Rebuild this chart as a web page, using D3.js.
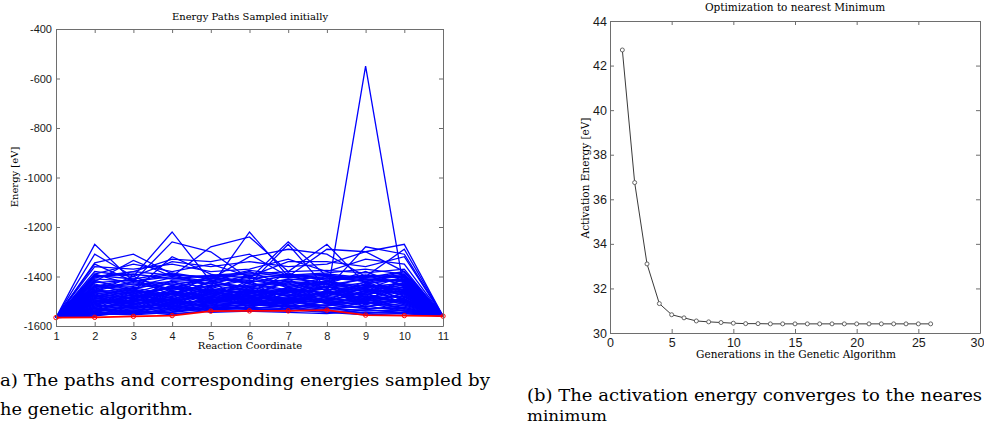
<!DOCTYPE html>
<html>
<head>
<meta charset="utf-8">
<script src="https://cdn.jsdelivr.net/npm/d3@7"></script>
<style>
body { margin: 0; background: #fff; }
svg { display: block; }
</style>
</head>
<body>
<svg id="fig" width="984" height="425"></svg>
<script>
// ---- data ----
var reactionCoords = [1, 2, 3, 4, 5, 6, 7, 8, 9, 10, 11];
var startEnergy = -1566;   // every path starts here
var endEnergy = -1560;     // ... and ends here
// energies at reaction coordinates 2..10 for each sampled path
var sampledPaths = [
  [-1270, -1420, -1450, -1400, -1430, -1460, -1440, -1410, -1420],
  [-1310, -1400, -1220, -1420, -1380, -1440, -1420, -1450, -1400],
  [-1345, -1310, -1390, -1440, -1220, -1400, -1430, -1380, -1440],
  [-1350, -1420, -1260, -1300, -1410, -1260, -1400, -1420, -1380],
  [-1420, -1335, -1400, -1280, -1240, -1380, -1270, -1430, -1410],
  [-1440, -1460, -1320, -1390, -1430, -1270, -1450, -1280, -1310],
  [-1400, -1380, -1330, -1340, -1310, -1400, -1290, -1300, -1270],
  [-1460, -1420, -1390, -1410, -1320, -1290, -1310, -1400, -1290],
  [-1480, -1450, -1500, -1470, -1460, -1490, -1480, -550, -1460],
  [-1360, -1370, -1350, -1380, -1370, -1330, -1380, -1330, -1350],
  [-1380, -1400, -1340, -1360, -1340, -1360, -1350, -1300, -1380],
  [-1390, -1350, -1380, -1350, -1400, -1340, -1340, -1360, -1320],
  [-1400, -1390, -1410, -1395, -1385, -1400, -1390, -1405, -1380],
  [-1410, -1420, -1400, -1420, -1410, -1390, -1410, -1395, -1400],
  [-1425, -1415, -1435, -1405, -1420, -1415, -1400, -1420, -1410],
  [-1440, -1450, -1420, -1430, -1440, -1425, -1435, -1410, -1420],
  [-1450, -1430, -1455, -1440, -1415, -1440, -1420, -1440, -1430],
  [-1460, -1470, -1445, -1460, -1450, -1430, -1455, -1435, -1445],
  [-1470, -1455, -1480, -1450, -1465, -1460, -1440, -1460, -1450],
  [-1480, -1490, -1465, -1475, -1455, -1470, -1475, -1450, -1470],
  [-1490, -1475, -1495, -1485, -1480, -1455, -1480, -1470, -1460],
  [-1500, -1510, -1490, -1470, -1490, -1485, -1465, -1490, -1480],
  [-1510, -1495, -1505, -1500, -1475, -1495, -1490, -1480, -1500],
  [-1520, -1515, -1520, -1490, -1505, -1500, -1505, -1510, -1490],
  [-1530, -1525, -1510, -1515, -1500, -1510, -1495, -1520, -1510],
  [-1540, -1535, -1530, -1520, -1515, -1520, -1515, -1530, -1525],
  [-1550, -1545, -1540, -1525, -1525, -1530, -1525, -1540, -1535],
  [-1555, -1550, -1545, -1530, -1530, -1535, -1545, -1548, -1545],
  [-1545, -1520, -1535, -1510, -1520, -1500, -1520, -1500, -1530],
  [-1535, -1540, -1500, -1505, -1480, -1505, -1485, -1510, -1495],
  [-1525, -1500, -1525, -1480, -1495, -1475, -1500, -1460, -1490],
  [-1515, -1530, -1470, -1495, -1470, -1490, -1460, -1485, -1455],
  [-1505, -1480, -1515, -1460, -1485, -1445, -1470, -1450, -1475],
  [-1495, -1505, -1460, -1490, -1445, -1465, -1450, -1475, -1440],
  [-1485, -1460, -1485, -1435, -1460, -1450, -1430, -1455, -1435],
  [-1475, -1485, -1440, -1455, -1435, -1420, -1445, -1425, -1415],
  [-1465, -1445, -1475, -1420, -1445, -1410, -1425, -1445, -1425],
  [-1455, -1465, -1425, -1445, -1400, -1435, -1405, -1420, -1395],
  [-1445, -1425, -1450, -1410, -1425, -1395, -1415, -1400, -1405],
  [-1435, -1440, -1405, -1430, -1395, -1405, -1395, -1415, -1390],
  [-1520, -1470, -1440, -1500, -1460, -1520, -1480, -1430, -1500],
  [-1470, -1510, -1480, -1420, -1510, -1440, -1505, -1490, -1440],
  [-1540, -1490, -1520, -1470, -1440, -1480, -1440, -1500, -1470],
  [-1500, -1525, -1455, -1510, -1470, -1425, -1490, -1445, -1510],
  [-1430, -1475, -1500, -1440, -1480, -1500, -1460, -1475, -1430],
  [-1560, -1510, -1495, -1525, -1490, -1460, -1510, -1525, -1485],
  [-1550, -1555, -1525, -1505, -1510, -1525, -1500, -1495, -1520],
  [-1480, -1445, -1430, -1460, -1500, -1490, -1440, -1470, -1505],
  [-1415, -1460, -1470, -1425, -1455, -1480, -1470, -1430, -1455],
  [-1460, -1400, -1460, -1480, -1425, -1455, -1415, -1465, -1425],
  [-1530, -1500, -1485, -1535, -1525, -1490, -1530, -1505, -1540],
  [-1510, -1545, -1510, -1455, -1495, -1515, -1535, -1535, -1515],
  [-1490, -1455, -1525, -1485, -1415, -1510, -1455, -1515, -1465],
  [-1545, -1480, -1460, -1500, -1505, -1445, -1480, -1420, -1480],
  [-1390, -1435, -1420, -1470, -1440, -1420, -1430, -1455, -1460],
  [-1450, -1495, -1415, -1415, -1460, -1470, -1510, -1480, -1410],
  [-1505, -1465, -1540, -1530, -1510, -1505, -1470, -1440, -1490],
  [-1420, -1450, -1490, -1455, -1470, -1385, -1460, -1495, -1450],
  [-1535, -1515, -1490, -1445, -1530, -1515, -1525, -1550, -1535],
  [-1475, -1530, -1505, -1520, -1450, -1480, -1395, -1410, -1470],
  [-1555, -1535, -1550, -1540, -1535, -1530, -1540, -1545, -1550],
  [-1525, -1480, -1445, -1490, -1520, -1465, -1450, -1525, -1495],
  [-1440, -1410, -1475, -1395, -1405, -1445, -1420, -1395, -1435],
  [-1495, -1520, -1530, -1505, -1485, -1500, -1520, -1470, -1515],
  [-1465, -1490, -1435, -1475, -1490, -1410, -1485, -1505, -1400],
  [-1545, -1550, -1515, -1535, -1515, -1495, -1505, -1530, -1530],
  [-1405, -1380, -1395, -1400, -1390, -1380, -1375, -1385, -1370],
  [-1395, -1410, -1385, -1410, -1375, -1395, -1385, -1370, -1390],
  [-1515, -1470, -1500, -1465, -1475, -1535, -1495, -1465, -1445],
  [-1485, -1515, -1465, -1480, -1500, -1460, -1430, -1485, -1480],
  [-1560, -1540, -1555, -1535, -1530, -1520, -1545, -1555, -1550],
  [-1525, -1555, -1545, -1515, -1535, -1540, -1530, -1520, -1540],
  [-1500, -1460, -1510, -1450, -1470, -1455, -1500, -1455, -1465],
  [-1540, -1525, -1495, -1480, -1520, -1510, -1460, -1505, -1525],
  [-1455, -1480, -1470, -1500, -1480, -1450, -1465, -1490, -1495],
  [-1530, -1545, -1535, -1525, -1500, -1525, -1515, -1495, -1505],
  [-1490, -1500, -1450, -1465, -1510, -1485, -1495, -1440, -1455],
  [-1550, -1530, -1520, -1545, -1540, -1545, -1550, -1535, -1545],
  [-1510, -1485, -1530, -1495, -1455, -1475, -1440, -1480, -1500]
];
var bestPath = [-1566, -1565, -1561, -1558, -1540, -1539, -1539, -1536, -1556, -1558, -1560];
var energyTicks = [-1600, -1400, -1200, -1000, -800, -600, -400];

var generations = [1, 2, 3, 4, 5, 6, 7, 8, 9, 10, 11, 12, 13, 14, 15, 16, 17, 18, 19, 20, 21, 22, 23, 24, 25, 26];
var activationEnergy = [42.7, 36.75, 33.1, 31.32, 30.82, 30.68, 30.54, 30.5, 30.47, 30.44, 30.42, 30.42, 30.41,
  30.41, 30.41, 30.41, 30.41, 30.41, 30.41, 30.41, 30.41, 30.41, 30.41, 30.41, 30.41, 30.41];
var genTicks = [0, 5, 10, 15, 20, 25, 30];
var actTicks = [30, 32, 34, 36, 38, 40, 42, 44];

var svg = d3.select("#fig");
var tickFont = "'Liberation Sans', Arial, sans-serif";
var serif = "'DejaVu Serif', 'Liberation Serif', serif";
var plain = function(d) { return String(d); };   // -1600 not "−1,600"

// MATLAB style box: ticks inside on all 4 sides
function boxAxes(g, x, y, xt, yt, pad) {
  var w = x.range()[1], h = y.range()[0];
  g.append("g").attr("class", "xaxis").attr("transform", "translate(0," + h + ")")
    .call(d3.axisBottom(x).tickValues(xt).tickFormat(plain).tickSizeInner(-4).tickSizeOuter(0).tickPadding(pad.x));
  g.append("g")
    .call(d3.axisTop(x).tickValues(xt).tickSizeInner(-4).tickSizeOuter(0).tickFormat(""));
  g.append("g")
    .call(d3.axisLeft(y).tickValues(yt).tickFormat(plain).tickSizeInner(-4).tickSizeOuter(0).tickPadding(pad.y));
  g.append("g").attr("transform", "translate(" + w + ",0)")
    .call(d3.axisRight(y).tickValues(yt).tickSizeInner(-4).tickSizeOuter(0).tickFormat(""));
  g.selectAll(".domain, .tick line").attr("stroke", "#6e6e6e");
  g.selectAll(".tick text").attr("fill", "#1a1a1a").style("font-family", tickFont).style("font-size", pad.fs + "px");
}

// ---------- left panel ----------
var L = {left: 56, top: 29, w: 387, h: 297};
var gl = svg.append("g").attr("transform", "translate(" + L.left + "," + L.top + ")");
var xl = d3.scaleLinear().domain([1, 11]).range([0, L.w]);
var yl = d3.scaleLinear().domain([-1600, -400]).range([L.h, 0]);

var pathLine = d3.line().x(function(d, i) { return xl(reactionCoords[i]); }).y(function(d) { return yl(d); });

gl.selectAll("path.sample").data(sampledPaths).enter().append("path")
  .attr("class", "sample")
  .attr("d", function(d) { return pathLine([startEnergy].concat(d, [endEnergy])); })
  .attr("fill", "none").attr("stroke", "#0000ff").attr("stroke-width", 1.3);

gl.append("path").attr("d", pathLine(bestPath))
  .attr("fill", "none").attr("stroke", "#ff0000").attr("stroke-width", 1.8);
gl.selectAll("circle.best").data(bestPath).enter().append("circle")
  .attr("class", "best")
  .attr("cx", function(d, i) { return xl(reactionCoords[i]); })
  .attr("cy", function(d) { return yl(d); })
  .attr("r", 2.2).attr("fill", "none").attr("stroke", "#ff0000").attr("stroke-width", 1);

boxAxes(gl, xl, yl, reactionCoords, energyTicks, {x: 6, y: 4, fs: 11});

svg.append("text").attr("x", 250).attr("y", 20).attr("text-anchor", "middle")
  .style("font-family", serif).style("font-size", "10px").text("Energy Paths Sampled initially");
svg.append("text").attr("x", 250).attr("y", 349).attr("text-anchor", "middle")
  .style("font-family", serif).style("font-size", "10px").text("Reaction Coordinate");
svg.append("text").attr("transform", "translate(18,177) rotate(-90)").attr("text-anchor", "middle")
  .style("font-family", serif).style("font-size", "10px").text("Energy [eV]");

// ---------- right panel ----------
var R = {left: 610, top: 21, w: 370, h: 312};
var gr = svg.append("g").attr("transform", "translate(" + R.left + "," + R.top + ")");
var xr = d3.scaleLinear().domain([0, 30]).range([0, R.w]);
var yr = d3.scaleLinear().domain([30, 44]).range([R.h, 0]);

var actLine = d3.line().x(function(d, i) { return xr(generations[i]); }).y(function(d) { return yr(d); });
gr.append("path").attr("d", actLine(activationEnergy))
  .attr("fill", "none").attr("stroke", "#3a3a3a").attr("stroke-width", 1);
gr.selectAll("circle.gen").data(activationEnergy).enter().append("circle")
  .attr("class", "gen")
  .attr("cx", function(d, i) { return xr(generations[i]); })
  .attr("cy", function(d) { return yr(d); })
  .attr("r", 2).attr("fill", "#fff").attr("stroke", "#555").attr("stroke-width", 0.9);

boxAxes(gr, xr, yr, genTicks, actTicks, {x: 5, y: 3, fs: 12.5});
// last x label sits on the page edge; keep it inside
gr.selectAll(".xaxis .tick text").filter(function(d) { return d === 30; })
  .attr("text-anchor", "end").attr("x", 4);

svg.append("text").attr("x", 795).attr("y", 11).attr("text-anchor", "middle")
  .style("font-family", serif).style("font-size", "10.5px").text("Optimization to nearest Minimum");
svg.append("text").attr("x", 796).attr("y", 358).attr("text-anchor", "middle")
  .style("font-family", serif).style("font-size", "10.5px").text("Generations in the Genetic Algorithm");
svg.append("text").attr("transform", "translate(589,178) rotate(-90)").attr("text-anchor", "middle")
  .style("font-family", serif).style("font-size", "10.5px").text("Activation Energy [eV]");

// ---------- captions ----------
var capSize = "16px";
svg.append("text").attr("x", 0).attr("y", 386).attr("textLength", 490).attr("lengthAdjust", "spacingAndGlyphs")
  .style("font-family", serif).style("font-size", capSize).text("a) The paths and corresponding energies sampled by");
svg.append("text").attr("x", 0).attr("y", 415).attr("textLength", 193).attr("lengthAdjust", "spacingAndGlyphs")
  .style("font-family", serif).style("font-size", capSize).text("he genetic algorithm.");
svg.append("text").attr("x", 527).attr("y", 401).attr("textLength", 455).attr("lengthAdjust", "spacingAndGlyphs")
  .style("font-family", serif).style("font-size", capSize).text("(b) The activation energy converges to the neares");
svg.append("text").attr("x", 527).attr("y", 421).attr("textLength", 80).attr("lengthAdjust", "spacingAndGlyphs")
  .style("font-family", serif).style("font-size", "14px").text("minimum");
</script>
</body>
</html>
